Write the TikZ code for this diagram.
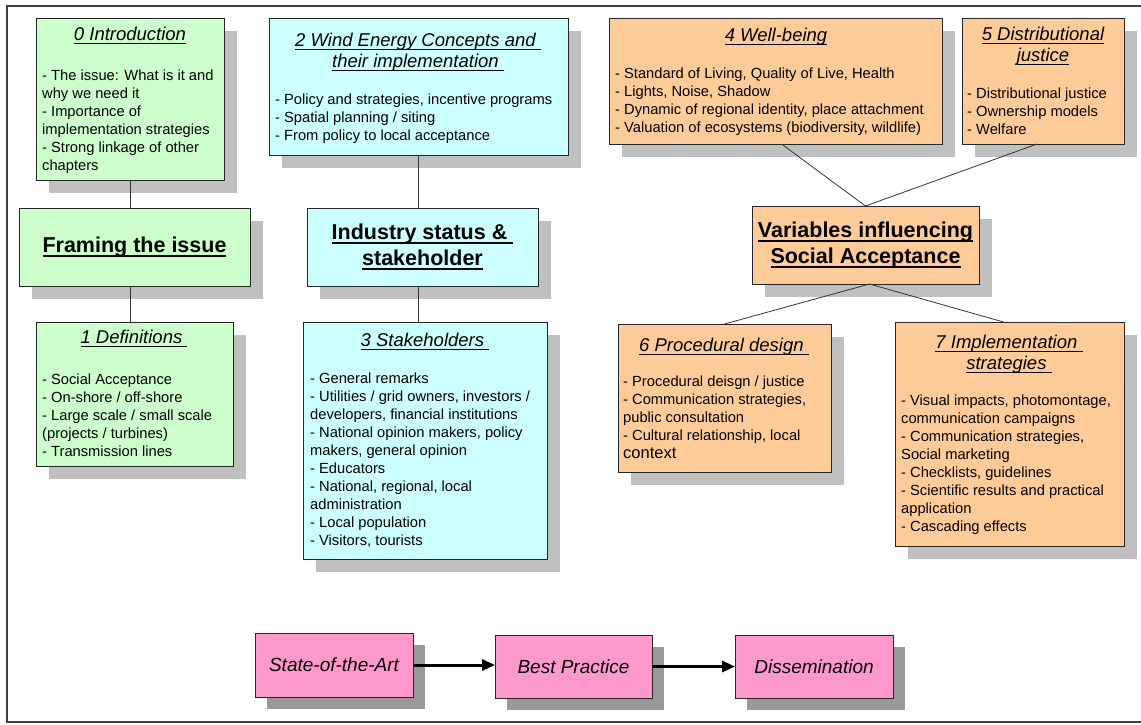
\documentclass[tikz,border=0pt]{standalone}
\usepackage{fontspec}
\setmainfont{Liberation Sans}
\usetikzlibrary{arrows.meta,shadows}
\newcommand\myul[1]{{\setbox0=\hbox{#1}\rlap{\rule[-3.8pt]{\wd0}{1.3pt}}\box0}}
\newcommand\mybul[1]{{\setbox0=\hbox{#1}\rlap{\rule[-4.4pt]{\wd0}{1.8pt}}\box0}}
\definecolor{cgreen}{HTML}{CCFFCC}
\definecolor{ccyan}{HTML}{CCFFFF}
\definecolor{corange}{HTML}{FFCC99}
\definecolor{cpink}{HTML}{FF99CC}
\definecolor{shadowlight}{HTML}{C0C0C0}
\definecolor{shadowdark}{HTML}{999999}
\definecolor{framec}{HTML}{404040}
\newcommand\bodyfont{\fontsize{14.7}{18}\selectfont}
\newcommand\titlefont{\fontsize{18.5}{21}\selectfont\itshape}
\newcommand\bigfont{\fontsize{21.5}{26}\selectfont\bfseries}
\newcommand\lines[1]{\begin{tabular}[t]{@{}l@{}}#1\end{tabular}}
\newcommand\clines[1]{\begin{tabular}[t]{@{}c@{}}#1\end{tabular}}
\tikzset{
  boxbase/.style={draw=black!85, line width=0.9pt, inner sep=0pt, outer sep=0pt, anchor=north west},
  box/.style={boxbase, general shadow={shadow xshift=12.5pt, shadow yshift=-12.5pt, fill=shadowlight}},
  pbox/.style={boxbase, fill=cpink, general shadow={shadow xshift=12pt, shadow yshift=-12pt, fill=shadowdark}, font=\fontsize{19}{22}\selectfont\itshape},
  bigbox/.style={box, font=\bigfont, align=center},
  btitle/.style={anchor=base, inner sep=0pt, font=\titlefont},
  body/.style={anchor=base west, inner sep=0pt, font=\bodyfont},
  link/.style={draw=black!80, line width=0.8pt},
  flow/.style={line width=3pt, -{Triangle[length=13pt,width=11pt]}}
}
\begin{document}
\begin{tikzpicture}[x=1pt, y=-1pt]
\useasboundingbox (0,0) rectangle (1141,724);
\draw[framec, line width=1.2pt] (1141,6) -- (7,6) -- (7,722) -- (1141,722);

% column 1
\node[box, fill=cgreen, minimum width=188pt, minimum height=162pt] (b0) at (36,18) {};
\node[btitle] (t0) at (130,40) {\myul{0 Introduction}};
\node[body] (x0) at (42,80) {\lines{- The issue: What is it and\\ why we need it\\ - Importance of\\ implementation strategies\\ - Strong linkage of other\\ chapters}};

\node[bigbox, fill=cgreen, minimum width=231pt, minimum height=78pt] (fr) at (19,208) {\mybul{Framing the issue}};

\node[box, fill=cgreen, minimum width=197pt, minimum height=144pt] (b1) at (36,322) {};
\node[btitle] (t1) at (134,343) {\myul{1 Definitions\ }};
\node[body] (x1) at (42,384) {\lines{- Social Acceptance\\ - On-shore / off-shore\\ - Large scale / small scale\\ (projects / turbines)\\ - Transmission lines}};

% column 2
\node[box, fill=ccyan, minimum width=299pt, minimum height=137pt] (b2) at (269,18) {};
\node[btitle] (t2) at (418,46) {\clines{\myul{2 Wind Energy Concepts and\ }\\ \myul{their implementation\ }}};
\node[body] (x2) at (275,104) {\lines{- Policy and strategies, incentive programs\\ - Spatial planning / siting\\ - From policy to local acceptance}};

\node[bigbox, fill=ccyan, minimum width=231pt, minimum height=78pt] (ind) at (307,208) {\mybul{Industry status \&\ }\\ \mybul{stakeholder}};

\node[box, fill=ccyan, minimum width=244pt, minimum height=237pt] (b3) at (303,322) {};
\node[btitle] (t3) at (425,346) {\myul{3 Stakeholders\ }};
\node[body] (x3) at (310,383) {\lines{- General remarks\\ - Utilities / grid owners, investors /\\ developers, financial institutions\\ - National opinion makers, policy\\ makers, general opinion\\ - Educators\\ - National, regional, local\\ administration\\ - Local population\\ - Visitors, tourists}};

% column 3
\node[box, fill=corange, minimum width=333pt, minimum height=126pt] (b4) at (609,18) {};
\node[btitle] (t4) at (776,41) {\myul{4 Well-being}};
\node[body] (x4) at (615,78) {\lines{- Standard of Living, Quality of Live, Health\\ - Lights, Noise, Shadow\\ - Dynamic of regional identity, place attachment\\ - Valuation of ecosystems (biodiversity, wildlife)}};

\node[box, fill=corange, minimum width=162pt, minimum height=126pt] (b5) at (962,18) {};
\node[btitle] (t5) at (1043,40) {\clines{\myul{5 Distributional}\\ \myul{justice}}};
\node[body] (x5) at (967,98) {\lines{- Distributional justice\\ - Ownership models\\ - Welfare}};

\node[bigbox, fill=corange, minimum width=227pt, minimum height=78pt] (var) at (752,206) {\mybul{Variables influencing}\\ \mybul{Social Acceptance}};

\node[box, fill=corange, minimum width=213pt, minimum height=148pt] (b6) at (618,324) {};
\node[btitle] (t6) at (724,351) {\myul{6 Procedural design\ }};
\node[body] (x6) at (623,386) {\lines{- Procedural deisgn / justice\\ - Communication strategies,\\ public consultation\\ - Cultural relationship, local\\ {\fontsize{16.5}{18}\selectfont context}}};

\node[box, fill=corange, minimum width=229pt, minimum height=224pt] (b7) at (895,322) {};
\node[btitle] (t7) at (1009,348) {\clines{\myul{7 Implementation\ }\\ \myul{strategies\ }}};
\node[body] (x7) at (901,405) {\lines{- Visual impacts, photomontage,\\ communication campaigns\\ - Communication strategies,\\ Social marketing\\ - Checklists, guidelines\\ - Scientific results and practical\\ application\\ - Cascading effects}};

% bottom row
\node[pbox, minimum width=158pt, minimum height=64pt] (s1) at (255,633) {State-of-the-Art};
\node[pbox, minimum width=157pt, minimum height=63pt] (s2) at (495,635) {Best Practice};
\node[pbox, minimum width=158pt, minimum height=63pt] (s3) at (735,635) {Dissemination};

% connectors
\draw[link] (b0.south) -- (b0.south |- fr.north);
\draw[link] (b0.south |- fr.south) -- (b0.south |- b1.north);
\draw[link] (b2.south) -- (b2.south |- ind.north);
\draw[link] (b2.south |- ind.south) -- (b2.south |- b3.north);
\draw[link] ([xshift=6pt]b4.south) -- (var.north);
\draw[link] ([xshift=-6pt]b5.south) -- (var.north);
\draw[link] ([xshift=4pt]var.south) -- (b6.north);
\draw[link] ([xshift=4pt]var.south) -- ([xshift=-6pt]b7.north);
\draw[flow] (s1.east) -- (s1.east -| s2.west);
\draw[flow] (s2.east) -- (s2.east -| s3.west);
\end{tikzpicture}
\end{document}
